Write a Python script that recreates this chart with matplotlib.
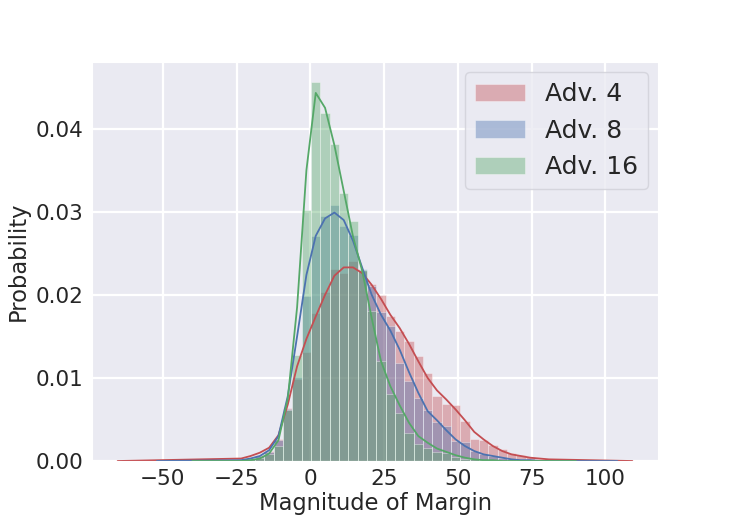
import numpy as np
import matplotlib
matplotlib.use("Agg")
import matplotlib.pyplot as plt
import seaborn as sns

# ---------------- data ----------------
labels = ["Adv. 4", "Adv. 8", "Adv. 16"]
colors = ["#C44E52", "#4C72B0", "#55A868"]

# shared histogram bins: left edge of the first bin and bin width (margin units)
bin_start = -25.04
bin_width = 3.16

# normalised histogram heights, one per bin
hist_adv4 = [0.0002, 0.0004, 0.0007, 0.0012, 0.0026, 0.0064, 0.0099, 0.0131,
             0.0178, 0.0203, 0.0231, 0.0226, 0.0241, 0.0229, 0.0213, 0.0200,
             0.0175, 0.0156, 0.0144, 0.0126, 0.0106, 0.0078, 0.0069, 0.0067,
             0.0048, 0.0026, 0.0025, 0.0019, 0.0014, 0.0010, 0.0007, 0.0005,
             0.0003, 0.0002]
hist_adv8 = [0.0001, 0.0003, 0.0006, 0.0011, 0.0025, 0.0063, 0.0101, 0.0198,
             0.0271, 0.0295, 0.0308, 0.0283, 0.0272, 0.0231, 0.0211, 0.0179,
             0.0163, 0.0118, 0.0096, 0.0076, 0.0062, 0.0047, 0.0042, 0.0024,
             0.0023, 0.0012, 0.0009, 0.0006, 0.0004, 0.0003, 0.0002, 0.0001,
             0.0000, 0.0000]
hist_adv16 = [0.0001, 0.0002, 0.0004, 0.0008, 0.0018, 0.0062, 0.0128, 0.0302,
              0.0456, 0.0419, 0.0382, 0.0323, 0.0289, 0.0230, 0.0180, 0.0120,
              0.0081, 0.0058, 0.0034, 0.0020, 0.0016, 0.0011, 0.0010, 0.0005,
              0.0003, 0.0002, 0.0001, 0.0001, 0.0000, 0.0000, 0.0000, 0.0000,
              0.0000, 0.0000]

# density curves sampled at the bin centres
kde_adv4 = [0.0003, 0.0006, 0.0010, 0.0016, 0.0031, 0.0068, 0.0114, 0.0147,
            0.0174, 0.0200, 0.0223, 0.0233, 0.0233, 0.0226, 0.0212, 0.0195,
            0.0176, 0.0160, 0.0141, 0.0120, 0.0100, 0.0085, 0.0074, 0.0062,
            0.0049, 0.0035, 0.0026, 0.0018, 0.0012, 0.0008, 0.0006, 0.0004,
            0.0003, 0.0002]
kde_adv8 = [0.0001, 0.0003, 0.0006, 0.0013, 0.0030, 0.0078, 0.0150, 0.0224,
            0.0271, 0.0292, 0.0299, 0.0290, 0.0265, 0.0232, 0.0200, 0.0176,
            0.0157, 0.0134, 0.0107, 0.0082, 0.0060, 0.0049, 0.0037, 0.0026,
            0.0018, 0.0012, 0.0008, 0.0006, 0.0004, 0.0002, 0.0001, 0.0001,
            0.0000, 0.0000]
kde_adv16 = [0.0000, 0.0001, 0.0003, 0.0009, 0.0025, 0.0075, 0.0185, 0.0350,
             0.0443, 0.0425, 0.0380, 0.0325, 0.0270, 0.0228, 0.0172, 0.0120,
             0.0090, 0.0067, 0.0046, 0.0030, 0.0022, 0.0015, 0.0011, 0.0007,
             0.0004, 0.0002, 0.0001, 0.0001, 0.0000, 0.0000, 0.0000, 0.0000,
             0.0000, 0.0000]

# extent of each density curve (where it fades to zero)
kde_support = [(-65.3, 109.1), (-52.0, 104.0), (-40.0, 90.0)]

xticks = [-50, -25, 0, 25, 50, 75, 100]
yticks = [0.00, 0.01, 0.02, 0.03, 0.04]

# ---------------- plotting ----------------
sns.set_style("darkgrid")
plt.rcParams["font.family"] = ["DejaVu Sans"]

fig = plt.figure(figsize=(7.33, 5.18), dpi=100)
ax = fig.add_subplot(111)

n_bins = len(hist_adv4)
edges = bin_start + bin_width * np.arange(n_bins + 1)
centers = 0.5 * (edges[:-1] + edges[1:])

hists = [hist_adv4, hist_adv8, hist_adv16]
kdes = [kde_adv4, kde_adv8, kde_adv16]
handles = []
for h, k, sup, c, lab in zip(hists, kdes, kde_support, colors, labels):
    bars = ax.bar(edges[:-1], h, width=bin_width, align="edge", color=c,
                  alpha=0.4, edgecolor="white", linewidth=0.6, label=lab)
    handles.append(bars)
    xs = np.concatenate([[sup[0]], centers, [sup[1]]])
    ys = np.concatenate([[0.0], k, [0.0]])
    ax.plot(xs, ys, color=c, linewidth=1.3, solid_joinstyle="round")

ax.set_xlim(-74.0, 117.8)
ax.set_ylim(0, 0.048)
ax.set_xticks(xticks)
ax.set_yticks(yticks)
ax.set_yticklabels([f"{v:.2f}" for v in yticks])
ax.tick_params(axis="both", labelsize=15.5, length=0, pad=6, labelcolor="#262626")
ax.grid(True, color="white", linewidth=1.6)
ax.set_xlabel("Magnitude of Margin", fontsize=16.3, labelpad=2, color="#262626")
ax.set_ylabel("Probability", fontsize=16.3, labelpad=4, color="#262626")

leg = ax.legend(handles=handles, labels=labels, loc="upper right",
                fontsize=18, frameon=True, facecolor="#EAEAF2",
                edgecolor="#d0d0d8", framealpha=0.8, borderaxespad=0.4)
for t in leg.get_texts():
    t.set_color("#262626")

fig.subplots_adjust(left=0.1255, right=0.8977, bottom=0.11, top=0.88)
fig.savefig("out.png", dpi=100)
